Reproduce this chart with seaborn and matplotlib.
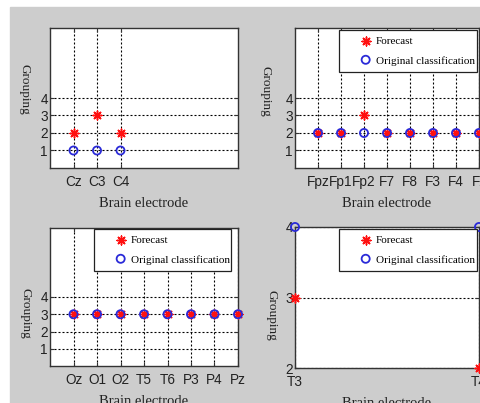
import matplotlib
matplotlib.use("Agg")
import matplotlib.pyplot as plt
from matplotlib.patches import Rectangle
import seaborn as sns

W, H = 481, 403

# Central electrodes (top left)
central = ["Cz", "C3", "C4"]
central_forecast = [2, 3, 2]
central_original = [1, 1, 1]

# Frontal electrodes (top right)
frontal = ["Fpz", "Fp1", "Fp2", "F7", "F8", "F3", "F4", "Fz"]
frontal_forecast = [2, 2, 3, 2, 2, 2, 2, 2]
frontal_original = [2, 2, 2, 2, 2, 2, 2, 2]

# Occipital / parietal electrodes (bottom left)
posterior = ["Oz", "O1", "O2", "T5", "T6", "P3", "P4", "Pz"]
posterior_forecast = [3, 3, 3, 3, 3, 3, 3, 3]
posterior_original = [3, 3, 3, 3, 3, 3, 3, 3]

# Temporal electrodes (bottom right)
temporal = ["T3", "T4"]
temporal_forecast = [3, 2]
temporal_original = [4, 4]

GRAY = "#cdcdcd"
RED = "#ff1010"
BLUE = "#2a2ad8"


def px_axes(fig, l, t, r, b):
    return fig.add_axes([l / W, 1 - b / H, (r - l) / W, (b - t) / H])


def draw_panel(fig, box, names, forecast, original, xlim, ylim, yticks,
               ylabel_xy, legend_box=None):
    ax = px_axes(fig, *box)
    ax.set_facecolor("white")

    sns.scatterplot(x=names, y=forecast, ax=ax, marker=(8, 2, 0), s=40,
                    color=RED, linewidth=1.1, label="Forecast",
                    clip_on=False, zorder=3, legend=False)
    sns.scatterplot(x=names, y=original, ax=ax, marker="o", s=34,
                    color=BLUE, facecolor="none", edgecolor=BLUE,
                    linewidth=1.3, label="Original classification",
                    clip_on=False, zorder=4, legend=False)

    ax.set_xlim(*xlim)
    ax.set_ylim(*ylim)
    ax.set_yticks(yticks)
    ax.grid(True, color="black", linestyle=(0, (1.8, 1.8)), linewidth=0.8)
    ax.set_axisbelow(True)

    for sp in ax.spines.values():
        sp.set_color("#333333")
        sp.set_linewidth(1.0)
    ax.tick_params(direction="in", length=3, top=True, right=True,
                   color="#333333", labelsize=9.8, labelcolor="#222222")
    ax.tick_params(axis="x", pad=4.8)
    ax.tick_params(axis="y", pad=1.5)
    for lab in ax.get_xticklabels() + ax.get_yticklabels():
        lab.set_family("Liberation Sans")

    ax.set_xlabel("Brain electrode", family="Liberation Serif", fontsize=10.5,
                  color="#222222", labelpad=6)
    ax.set_ylabel("Grouping", family="Liberation Serif", fontsize=9.5,
                  rotation=270, va="center", ha="center", color="#222222")
    ax.yaxis.set_label_coords(*ylabel_xy)

    if legend_box is not None:
        l, t, r, b = legend_box
        leg = ax.legend(loc="upper left",
                        bbox_to_anchor=(l / W, 1 - b / H, (r - l) / W, (b - t) / H),
                        bbox_transform=fig.transFigure, mode="expand",
                        prop={"family": "Liberation Serif", "size": 8},
                        frameon=True, fancybox=False, framealpha=1,
                        edgecolor="#222222", borderpad=0.6, labelspacing=0.85,
                        handlelength=3.6, handletextpad=-0.9,
                        scatterpoints=1, scatteryoffsets=[0.5],
                        borderaxespad=0)
        leg.get_frame().set_linewidth(0.9)
    return ax


fig = plt.figure(figsize=(W / 100, H / 100), dpi=100)
fig.patch.set_facecolor("white")
fig.patches.append(Rectangle((10 / W, 0), 1, (H - 7) / H,
                             transform=fig.transFigure, color=GRAY, zorder=-10))

draw_panel(fig, (50, 28, 238, 168), central, central_forecast, central_original,
           (-1, 7), (0, 8), [1, 2, 3, 4], (-0.135, 0.56))
draw_panel(fig, (295, 28, 479, 168), frontal, frontal_forecast, frontal_original,
           (-1, 7), (0, 8), [1, 2, 3, 4], (-0.16, 0.55),
           legend_box=(339, 30, 477, 72))
draw_panel(fig, (50, 228, 238, 366), posterior, posterior_forecast, posterior_original,
           (-1, 7), (0, 8), [1, 2, 3, 4], (-0.13, 0.38),
           legend_box=(94, 229, 231, 271))
draw_panel(fig, (295, 227, 479, 368), temporal, temporal_forecast, temporal_original,
           (0, 1), (2, 4), [2, 3, 4], (-0.13, 0.37),
           legend_box=(339, 229, 477, 271))

fig.savefig("out.png", dpi=100, facecolor=fig.get_facecolor())
